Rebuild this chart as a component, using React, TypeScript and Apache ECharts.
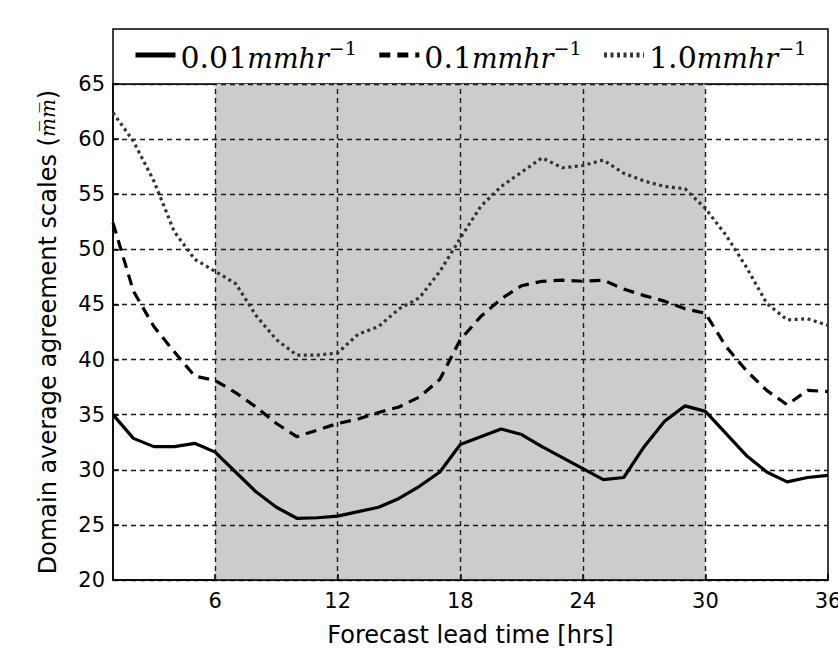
import React, { useEffect, useRef } from "react";
import * as echarts from "echarts";

const hours = [1, 2, 3, 4, 5, 6, 7, 8, 9, 10, 11, 12, 13, 14, 15, 16, 17, 18, 19, 20, 21, 22, 23, 24, 25, 26, 27, 28, 29, 30, 31, 32, 33, 34, 35, 36];
const rate001 = [35.0, 32.85, 32.1, 32.1, 32.4, 31.6, 29.8, 28.0, 26.6, 25.6, 25.65, 25.8, 26.2, 26.6, 27.4, 28.5, 29.8, 32.3, 33.0, 33.7, 33.2, 32.1, 31.1, 30.1, 29.1, 29.3, 32.1, 34.4, 35.8, 35.3, 33.3, 31.3, 29.8, 28.9, 29.3, 29.5];
const rate01 = [52.4, 46.2, 43.0, 40.7, 38.5, 38.1, 37.0, 35.7, 34.2, 33.0, 33.6, 34.2, 34.6, 35.2, 35.7, 36.6, 38.2, 41.8, 43.9, 45.5, 46.7, 47.1, 47.2, 47.1, 47.2, 46.4, 45.8, 45.3, 44.6, 44.2, 41.2, 39.0, 37.2, 35.9, 37.2, 37.1];
const rate10 = [62.4, 59.8, 56.2, 51.6, 49.1, 48.0, 46.9, 44.0, 41.8, 40.4, 40.4, 40.6, 42.3, 43.0, 44.6, 45.6, 48.0, 51.0, 53.9, 55.7, 57.0, 58.3, 57.4, 57.6, 58.1, 56.9, 56.2, 55.7, 55.5, 53.7, 51.3, 48.4, 45.1, 43.6, 43.7, 43.1];
const seriesNames = ["0.01", "0.1", "1.0"];
const xTicks = [6, 12, 18, 24, 30, 36];
const xGridLines = [6, 12, 18, 24, 30];
const shadeRange = [6, 30];
const xRange = [1, 36];
const yRange = [20, 65];
const yStep = 5;

export default function App() {
  const ref = useRef<HTMLDivElement>(null);
  useEffect(() => {
    const chart = echarts.init(ref.current!, null, { renderer: "svg" });
    const pair = (v: number[]) => hours.map((h, i) => [h, v[i]]);
    const gridDash = { color: "#1a1a1a", width: 1.4, type: [5, 4] };
    const styles = [
      { color: "#000", width: 3.2, type: "solid" },
      { color: "#000", width: 3.2, type: [11, 7] },
      { color: "#333", width: 3.2, type: [3, 3.5] },
    ];
    const datas = [rate001, rate01, rate10];
    chart.setOption({
      animation: false,
      backgroundColor: "#fff",
      grid: {
        left: 113,
        top: 84,
        right: 10,
        bottom: 68,
        show: true,
        borderColor: "#000",
        borderWidth: 1.5,
        backgroundColor: "#fff",
        outerBoundsMode: "none",
        containLabel: false,
        z: 0,
      },
      graphic: [
        {
          type: "rect",
          shape: { x: 113, y: 29, width: 715, height: 55 },
          style: { fill: "#fff", stroke: "#000", lineWidth: 1.5 },
          z: 0,
        },
      ],
      legend: {
        data: seriesNames,
        left: 128,
        top: 33,
        itemWidth: 40,
        itemHeight: 14,
        itemGap: 20,
        itemStyle: { opacity: 0 },
        lineStyle: { width: 5 },
        formatter: (n: string) => `{n|${n}}{it|mmhr}{sup|−1}`,
        textStyle: {
          color: "#000",
          rich: {
            n: { fontFamily: "DejaVu Serif", fontSize: 30, lineHeight: 34, verticalAlign: "bottom" },
            it: { fontFamily: "DejaVu Serif", fontStyle: "italic", fontSize: 27, lineHeight: 34, verticalAlign: "bottom" },
            sup: { fontFamily: "DejaVu Serif", fontSize: 19, lineHeight: 34, verticalAlign: "top" },
          },
        },
      },
      xAxis: {
        type: "value",
        min: xRange[0],
        max: xRange[1],
        z: 3,
        name: "Forecast lead time [hrs]",
        nameLocation: "middle",
        nameGap: 43,
        nameTextStyle: { fontFamily: "DejaVu Sans", fontSize: 24, color: "#000" },
        axisLine: { show: true, lineStyle: { color: "#000", width: 1.5 } },
        axisTick: { show: true, inside: true, length: 6, customValues: xTicks, lineStyle: { color: "#000", width: 1.5 } },
        axisLabel: { customValues: xTicks, fontFamily: "DejaVu Sans", fontSize: 21, color: "#000", margin: 10 },
        splitLine: { show: false },
      },
      yAxis: {
        type: "value",
        min: yRange[0],
        max: yRange[1],
        interval: yStep,
        z: 3,
        name: "Domain average agreement scales ({mm|m\u0305m\u0305})",
        nameLocation: "middle",
        nameGap: 53,
        nameTextStyle: {
          fontFamily: "DejaVu Sans",
          fontSize: 24,
          color: "#000",
          rich: { mm: { fontFamily: "DejaVu Serif", fontStyle: "italic", fontSize: 20 } },
        },
        axisLine: { show: true, lineStyle: { color: "#000", width: 1.5 } },
        axisTick: { show: true, inside: true, length: 6, lineStyle: { color: "#000", width: 1.5 } },
        axisLabel: { fontFamily: "DejaVu Sans", fontSize: 21, color: "#000", margin: 8 },
        splitLine: { show: true, lineStyle: gridDash },
      },
      series: [
        {
          name: "shade",
          type: "line",
          data: [[xRange[0], yRange[0]]],
          symbol: "none",
          lineStyle: { opacity: 0 },
          silent: true,
          z: 1,
          markArea: {
            silent: true,
            itemStyle: { color: "#cccccc" },
            data: [[{ xAxis: shadeRange[0] }, { xAxis: shadeRange[1] }]],
          },
          markLine: {
            silent: true,
            symbol: "none",
            label: { show: false },
            lineStyle: gridDash,
            data: xGridLines.map((v) => ({ xAxis: v })),
          },
        },
        ...seriesNames.map((name, i) => ({
          name,
          type: "line",
          data: pair(datas[i]),
          symbol: "none",
          showSymbol: false,
          z: 5,
          lineStyle: styles[i],
          itemStyle: { color: styles[i].color },
        })),
      ],
    });
    return () => chart.dispose();
  }, []);
  return <div ref={ref} style={{ position: "fixed", left: 0, top: 0, width: 838, height: 648 }} />;
}
